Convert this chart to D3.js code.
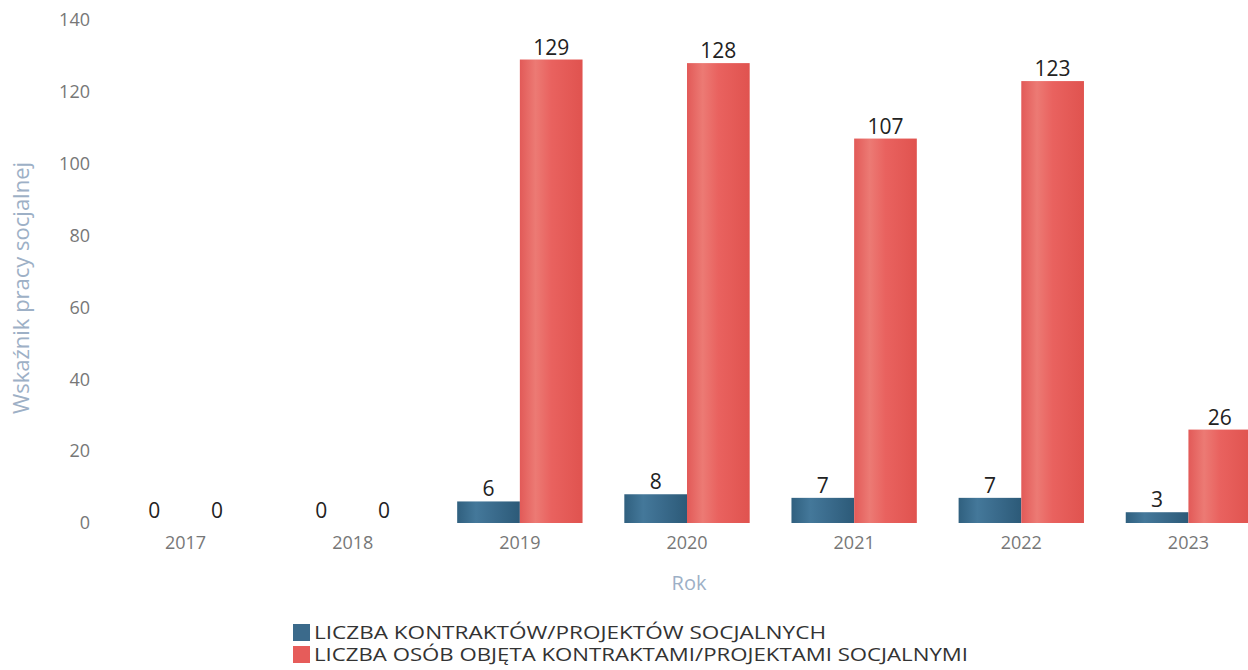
<!DOCTYPE html>
<html><head><meta charset="utf-8">
<script src="https://cdn.jsdelivr.net/npm/d3@7"></script>
<style>body{margin:0;background:#fff;font-family:"Open Sans",sans-serif}</style>
</head><body>
<svg id="c" width="1248" height="670"></svg>
<script>
const years = ["2017","2018","2019","2020","2021","2022","2023"];
const contracts = [0,0,6,8,7,7,3];
const persons = [0,0,129,128,107,123,26];
const seriesNames = ["LICZBA KONTRAKTÓW/PROJEKTÓW SOCJALNYCH","LICZBA OSÓB OBJĘTA KONTRAKTAMI/PROJEKTAMI SOCJALNYMI"];
const yTicks = [0,20,40,60,80,100,120,140];
const colors = ["#3b6a8b","#e65c5a"];

const svg = d3.select("#c");
const defs = svg.append("defs");
function grad(id, stops){
  const g = defs.append("linearGradient").attr("id",id).attr("x1","0%").attr("x2","100%").attr("y1","0%").attr("y2","0%");
  stops.forEach(s=>g.append("stop").attr("offset",s[0]).attr("stop-color",s[1]));
}
grad("gb",[["0%","#30607f"],["30%","#44789a"],["60%","#3a6b8c"],["100%","#2c5a78"]]);
grad("gr",[["0%","#e25a58"],["25%","#ec7a74"],["50%","#e9625f"],["100%","#e0534f"]]);
const fills = ["url(#gb)","url(#gr)"];

const x = d3.scaleBand().domain(years).range([102,1272]).paddingInner(0.25).paddingOuter(0.125);
const xs = d3.scaleBand().domain([0,1]).range([0,x.bandwidth()]);
const y = d3.scaleLinear().domain([0,140]).range([523,20]);

// y axis
const ya = svg.append("g").attr("transform","translate(90,0)")
  .call(d3.axisLeft(y).tickValues(yTicks).tickSize(0).tickPadding(0));
ya.select(".domain").remove();
ya.selectAll("text").attr("font-size",18).attr("fill","#777").attr("font-family","Open Sans");

// x axis
const xa = svg.append("g").attr("transform","translate(0,536)")
  .call(d3.axisBottom(x).tickSize(0).tickPadding(0));
xa.select(".domain").remove();
xa.selectAll("text").attr("font-size",18).attr("fill","#777").attr("font-family","Open Sans").attr("dy","0.71em");

const series = [contracts, persons];
series.forEach((vals,si)=>{
  const g = svg.append("g");
  g.selectAll("rect").data(vals).join("rect")
    .attr("x",(d,i)=>x(years[i])+xs(si))
    .attr("width",xs.bandwidth())
    .attr("y",d=>y(d))
    .attr("height",d=>y(0)-y(d))
    .attr("fill",fills[si]);
  g.selectAll("text").data(vals).join("text")
    .attr("x",(d,i)=>x(years[i])+xs(si)+xs.bandwidth()/2)
    .attr("y",d=>y(d)-5)
    .attr("text-anchor","middle")
    .attr("font-size",21).attr("fill","#222").attr("font-family","Open Sans")
    .text(d=>d);
});

svg.append("text").attr("transform","translate(29,288) rotate(-90)")
  .attr("text-anchor","middle").attr("font-size",22).attr("fill","#9db0c6")
  .attr("font-family","Open Sans").text("Wskaźnik pracy socjalnej");
svg.append("text").attr("x",689).attr("y",590)
  .attr("text-anchor","middle").attr("font-size",20).attr("fill","#9db0c6")
  .attr("font-family","Open Sans").text("Rok");

const lg = svg.append("g").attr("transform","translate(293,624)");
const legendWidths = [512, 654];
seriesNames.forEach((n,i)=>{
  lg.append("rect").attr("x",0).attr("y",i*22).attr("width",17).attr("height",17).attr("fill",colors[i]);
  lg.append("text").attr("x",21).attr("y",i*22+15).attr("font-size",18).attr("fill","#333")
    .attr("font-family","Open Sans").attr("textLength",legendWidths[i]).attr("lengthAdjust","spacingAndGlyphs").text(n);
});
</script>
</body></html>
